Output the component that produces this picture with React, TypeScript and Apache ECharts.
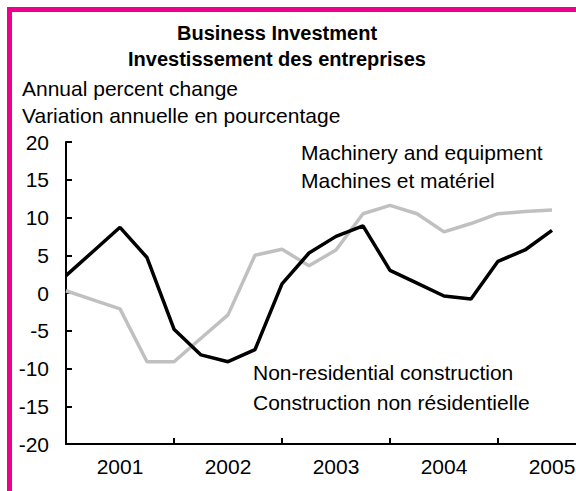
import React, { useEffect, useRef } from "react";
import * as echarts from "echarts";

const years = ["2001", "2002", "2003", "2004", "2005"];
const quarterNames = ["Q1", "Q2", "Q3", "Q4"];
const quarters = [...years.flatMap((y) => quarterNames.map((q) => y + q)), "2006Q1"];

// Machinery and equipment (grey)
const machinery = [0.3, -0.9, -2.1, -9.1, -9.1, -6.0, -2.9, 5.0, 5.8, 3.6, 5.7, 10.5, 11.6, 10.5, 8.1, 9.2, 10.5, 10.8, 11.0];
// Non-residential construction (black)
const construction = [2.3, 5.5, 8.7, 4.7, -4.8, -8.2, -9.1, -7.5, 1.2, 5.3, 7.5, 8.9, 3.0, 1.3, -0.4, -0.8, 4.2, 5.7, 8.3];

const yMin = -20;
const yMax = 20;
const yStep = 5;

const titleLines = ["Business Investment", "Investissement des entreprises"];
const unitLines = ["Annual percent change", "Variation annuelle en pourcentage"];
const machineryLabel = ["Machinery and equipment", "Machines et matériel"];
const constructionLabel = ["Non-residential construction", "Construction non résidentielle"];

const FONT = "'Liberation Sans', Arial, Helvetica, sans-serif";

export default function App() {
  const ref = useRef<HTMLDivElement>(null);

  useEffect(() => {
    if (!ref.current) return;
    const chart = echarts.init(ref.current, null, { renderer: "svg" });

    const txt = (text: string, x: number, y: number, opts: any = {}) => ({
      type: "text",
      x,
      y,
      style: {
        text,
        fill: "#000",
        fontFamily: FONT,
        fontSize: 21,
        align: "left",
        verticalAlign: "middle",
        ...opts,
      },
    });

    chart.setOption({
      animation: false,
      backgroundColor: "#fff",
      grid: { left: 54, top: 130, width: 540, height: 302, containLabel: false },
      xAxis: [
        {
          type: "category",
          data: years,
          boundaryGap: true,
          axisLine: { show: true, onZero: false, lineStyle: { color: "#000", width: 2 } },
          axisTick: { show: true, inside: true, length: 6, alignWithLabel: false, lineStyle: { color: "#000", width: 2 } },
          axisLabel: { interval: 0, color: "#000", fontFamily: FONT, fontSize: 21, margin: 12 },
          splitLine: { show: false },
        },
        {
          type: "category",
          data: quarters,
          boundaryGap: false,
          show: false,
          position: "bottom",
          axisLine: { onZero: false },
        },
      ],
      yAxis: {
        type: "value",
        min: yMin,
        max: yMax,
        interval: yStep,
        axisLine: { show: true, lineStyle: { color: "#000", width: 2 } },
        axisTick: { show: true, inside: true, length: 6, lineStyle: { color: "#000", width: 2 } },
        axisLabel: { color: "#000", fontFamily: FONT, fontSize: 21, margin: 17 },
        splitLine: { show: false },
      },
      series: [
        {
          name: "Machinery and equipment",
          type: "line",
          xAxisIndex: 1,
          data: machinery,
          symbol: "none",
          lineStyle: { color: "#C0C0C0", width: 3.5 },
          z: 2,
        },
        {
          name: "Non-residential construction",
          type: "line",
          xAxisIndex: 1,
          data: construction,
          symbol: "none",
          lineStyle: { color: "#000", width: 3.5 },
          z: 3,
        },
      ],
      graphic: [
        txt(titleLines[0], 265, 21, { align: "center", fontWeight: "bold", fontSize: 20 }),
        txt(titleLines[1], 265, 47, { align: "center", fontWeight: "bold", fontSize: 20 }),
        txt(unitLines[0], 10, 76),
        txt(unitLines[1], 10, 103),
        txt(machineryLabel[0], 289, 140.5),
        txt(machineryLabel[1], 289, 168),
        txt(constructionLabel[0], 241, 360),
        txt(constructionLabel[1], 241, 390.5),
      ],
    });

    return () => chart.dispose();
  }, []);

  return (
    <div
      style={{
        position: "absolute",
        left: 7,
        top: 7,
        width: 569,
        height: 484,
        overflow: "hidden",
        borderLeft: "5px solid #EC008C",
        borderTop: "5px solid #EC008C",
        boxSizing: "border-box",
        background: "#fff",
      }}
    >
      <div ref={ref} style={{ width: 634, height: 479 }} />
    </div>
  );
}
